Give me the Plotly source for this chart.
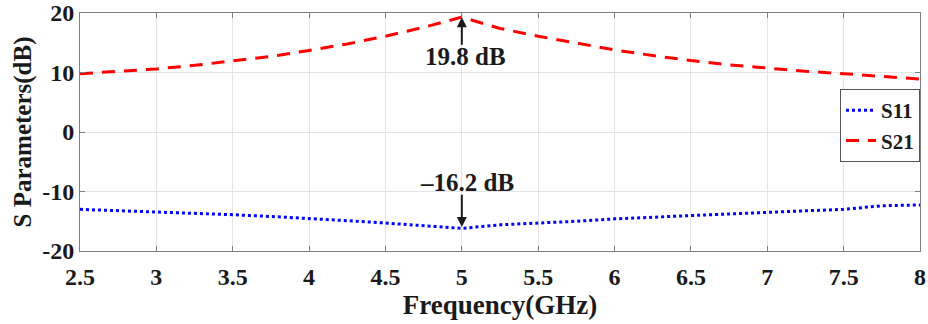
import plotly.graph_objects as go

freq = [2.5, 2.75, 3.0, 3.25, 3.5, 3.75, 4.0, 4.25, 4.5, 4.75, 5.0, 5.25,
        5.5, 5.75, 6.0, 6.25, 6.5, 6.75, 7.0, 7.25, 7.5, 7.75, 8.0]
s21 = [9.8, 10.15, 10.6, 11.2, 11.9, 12.7, 13.7, 14.8, 16.1, 17.6, 19.3, 17.4,
       16.1, 14.9, 13.8, 12.85, 12.0, 11.3, 10.7, 10.2, 9.8, 9.35, 8.9]
s11 = [-13.0, -13.2, -13.4, -13.65, -13.9, -14.2, -14.5, -14.9, -15.3, -15.75, -16.2, -15.6,
       -15.35, -15.0, -14.6, -14.3, -14.05, -13.8, -13.5, -13.25, -13.0, -12.4, -12.25]

xtick_vals = [2.5, 3, 3.5, 4, 4.5, 5, 5.5, 6, 6.5, 7, 7.5, 8]
xtick_text = ["2.5", "3", "3.5", "4", "4.5", "5", "5.5", "6", "6.5", "7", "7.5", "8"]
ytick_vals = [-20, -10, 0, 10, 20]
ytick_text = ["-20", "-10", "0", "10", "20"]

FONT = "Liberation Serif"
TXT = "#1a1a1a"

fig = go.Figure()
fig.add_trace(go.Scatter(x=freq, y=s11, mode="lines", name="S11",
                         line=dict(color="#0000ff", width=3, dash="3px,3px")))
fig.add_trace(go.Scatter(x=freq, y=s21, mode="lines", name="S21",
                         line=dict(color="#ff0000", width=3, dash="13px,9px")))

ann_font = dict(family=FONT, size=25, color=TXT, weight="bold")
# text labels
fig.add_annotation(x=5.0, y=12.7, text="19.8 dB", showarrow=False, font=ann_font, xshift=4)
fig.add_annotation(x=5.0, y=-8.55, text="\u201316.2 dB", showarrow=False, font=ann_font, xshift=5)
# arrows
fig.add_annotation(x=5.0, y=19.3, ax=5.0, ay=14.4, axref="x", ayref="y", text="",
                   showarrow=True, arrowhead=2, arrowsize=1, arrowwidth=2, arrowcolor=TXT)
fig.add_annotation(x=5.0, y=-15.95, ax=5.0, ay=-10.3, axref="x", ayref="y", text="",
                   showarrow=True, arrowhead=2, arrowsize=1, arrowwidth=2, arrowcolor=TXT)

axis_common = dict(showline=True, linecolor="#808080", linewidth=1, mirror="allticks",
                   ticks="inside", ticklen=5, tickcolor="#808080", showgrid=True,
                   gridcolor="#e4e4e4", gridwidth=1, zeroline=False, automargin=False,
                   tickfont=dict(family=FONT, size=24, color=TXT, weight="bold"))

fig.update_xaxes(range=[2.5, 8], tickvals=xtick_vals, ticktext=xtick_text,
                 ticklabelstandoff=4,
                 title=dict(text="Frequency(GHz)", standoff=4,
                            font=dict(family=FONT, size=27, color=TXT, weight="bold")),
                 **axis_common)
fig.update_yaxes(range=[-20, 20], tickvals=ytick_vals, ticktext=ytick_text,
                 title=dict(text="S Parameters(dB)", standoff=3,
                            font=dict(family=FONT, size=25, color=TXT, weight="bold")),
                 **axis_common)

fig.update_layout(
    width=928, height=324,
    margin=dict(l=80, r=8, t=13, b=73),
    paper_bgcolor="white", plot_bgcolor="white",
    showlegend=True,
    legend=dict(x=1, xanchor="right", y=0.527, yanchor="middle",
                bgcolor="white", bordercolor="#555555", borderwidth=1,
                itemwidth=30, tracegroupgap=0,
                font=dict(family=FONT, size=21, color=TXT, weight="bold")),
)

fig.write_html("out.html")
